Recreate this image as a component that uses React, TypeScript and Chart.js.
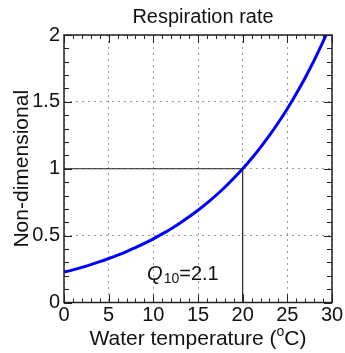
import React, { useEffect, useRef } from "react";
import { Chart, registerables } from "chart.js";

Chart.register(...registerables);

const temperatures = [0, 1, 2, 3, 4, 5, 6, 7, 8, 9, 10, 11, 12, 13, 14, 15, 16, 17, 18, 19, 20, 21, 22, 23, 24, 25, 26, 27, 28, 29, 30];
const rates = [0.227, 0.244, 0.263, 0.283, 0.305, 0.329, 0.354, 0.381, 0.411, 0.442, 0.476, 0.513, 0.552, 0.595, 0.641, 0.690, 0.743, 0.800, 0.862, 0.929, 1.0, 1.077, 1.16, 1.249, 1.346, 1.449, 1.561, 1.681, 1.81, 1.95, 2.1];
const refX = [0, 20, 20];
const refY = [1, 1, 0];
const xTicks = [0, 5, 10, 15, 20, 25, 30];
const yTicks = [0, 0.5, 1, 1.5, 2];
const titleText = "Respiration rate";
const xTitle = ["Water temperature (", "o", "C)"];
const yTitle = "Non-dimensional";
const q10Label = { base: "Q", sub: "10", rest: "=2.1", x: 9.3, y: 0.17 };

const FONT = "'Liberation Sans', Arial, Helvetica, sans-serif";

const decor = {
  id: "decor",
  afterDatasetsDraw(chart: any) {
    const { ctx, chartArea: a, scales } = chart;
    const xs = scales.x;
    const ys = scales.y;
    ctx.save();
    ctx.strokeStyle = "#222";
    ctx.lineWidth = 1;
    ctx.beginPath();
    for (let i = 0; i <= 30; i++) {
      const px = Math.round(xs.getPixelForValue(i)) + 0.5;
      const len = i % 5 === 0 ? 8 : 4;
      ctx.moveTo(px, a.bottom);
      ctx.lineTo(px, a.bottom - len);
      ctx.moveTo(px, a.top);
      ctx.lineTo(px, a.top + len);
    }
    for (let j = 0; j <= 20; j++) {
      const py = Math.round(ys.getPixelForValue(j / 10)) + 0.5;
      const len = j % 5 === 0 ? 8 : 5;
      ctx.moveTo(a.left, py);
      ctx.lineTo(a.left + len, py);
      ctx.moveTo(a.right, py);
      ctx.lineTo(a.right - len, py);
    }
    ctx.stroke();
    ctx.lineWidth = 1.5;
    ctx.strokeRect(a.left, a.top, a.right - a.left, a.bottom - a.top);

    // Q10 label
    ctx.fillStyle = "#111";
    ctx.textBaseline = "alphabetic";
    ctx.textAlign = "left";
    let lx = xs.getPixelForValue(q10Label.x);
    const ly = ys.getPixelForValue(q10Label.y);
    ctx.font = `italic 20px ${FONT}`;
    ctx.fillText(q10Label.base, lx, ly);
    lx += ctx.measureText(q10Label.base).width + 1;
    ctx.font = `14px ${FONT}`;
    ctx.fillText(q10Label.sub, lx, ly + 3);
    lx += ctx.measureText(q10Label.sub).width;
    ctx.font = `20px ${FONT}`;
    ctx.fillText(q10Label.rest, lx, ly);

    // title
    ctx.font = `20px ${FONT}`;
    ctx.textAlign = "center";
    ctx.textBaseline = "middle";
    ctx.fillText(titleText, (a.left + a.right) / 2 + 5, 17);

    // x title with superscript
    ctx.textAlign = "left";
    ctx.textBaseline = "alphabetic";
    ctx.font = `21px ${FONT}`;
    const w0 = ctx.measureText(xTitle[0]).width;
    const w2 = ctx.measureText(xTitle[2]).width;
    ctx.font = `14px ${FONT}`;
    const w1 = ctx.measureText(xTitle[1]).width;
    let tx = (a.left + a.right) / 2 - (w0 + w1 + w2) / 2;
    const ty = 345;
    ctx.font = `21px ${FONT}`;
    ctx.fillText(xTitle[0], tx, ty);
    tx += w0;
    ctx.font = `14px ${FONT}`;
    ctx.fillText(xTitle[1], tx, ty - 9);
    tx += w1;
    ctx.font = `21px ${FONT}`;
    ctx.fillText(xTitle[2], tx, ty);

    // y title
    ctx.save();
    ctx.translate(22, (a.top + a.bottom) / 2);
    ctx.rotate(-Math.PI / 2);
    ctx.textAlign = "center";
    ctx.textBaseline = "middle";
    ctx.font = `21px ${FONT}`;
    ctx.fillText(yTitle, 0, 0);
    ctx.restore();
    ctx.restore();
  },
};

export default function App() {
  const ref = useRef<HTMLCanvasElement | null>(null);
  useEffect(() => {
    if (!ref.current) return;
    const chart = new Chart(ref.current, {
      type: "line",
      data: {
        datasets: [
          {
            data: refX.map((x, i) => ({ x, y: refY[i] })),
            borderColor: "#222",
            borderWidth: 1.2,
            pointRadius: 0,
            fill: false,
          },
          {
            data: temperatures.map((t, i) => ({ x: t, y: rates[i] })),
            borderColor: "#0000ff",
            borderWidth: 3,
            pointRadius: 0,
            cubicInterpolationMode: "monotone",
            fill: false,
          },
        ],
      },
      options: {
        animation: false,
        responsive: false,
        maintainAspectRatio: false,
        layout: { padding: { left: 0, right: 13, top: 35, bottom: 0 } },
        plugins: { legend: { display: false }, title: { display: false }, tooltip: { enabled: false } },
        scales: {
          x: {
            type: "linear",
            min: 0,
            max: 30,
            afterBuildTicks: (s: any) => {
              s.ticks = xTicks.map((v) => ({ value: v }));
            },
            afterFit: (s: any) => {
              s.height = 50.5;
            },
            ticks: { font: { family: FONT, size: 20 }, color: "#111", padding: 1, maxRotation: 0, autoSkip: false },
            grid: { color: "#9a9a9a", lineWidth: 1, drawTicks: false },
            border: { display: false, dash: [2, 4] },
          },
          y: {
            type: "linear",
            min: 0,
            max: 2,
            afterBuildTicks: (s: any) => {
              s.ticks = yTicks.map((v) => ({ value: v }));
            },
            afterFit: (s: any) => {
              s.width = 64;
            },
            ticks: { font: { family: FONT, size: 20 }, color: "#111", padding: 4, callback: (v: any) => String(v) },
            grid: { color: "#9a9a9a", lineWidth: 1, drawTicks: false },
            border: { display: false, dash: [2, 4] },
          },
        },
      },
      plugins: [decor],
    } as any);
    return () => chart.destroy();
  }, []);
  return (
    <div style={{ position: "fixed", left: 0, top: 0, width: 345, height: 353, background: "#fff" }}>
      <canvas ref={ref} width={345} height={353} style={{ width: 345, height: 353 }} />
    </div>
  );
}
